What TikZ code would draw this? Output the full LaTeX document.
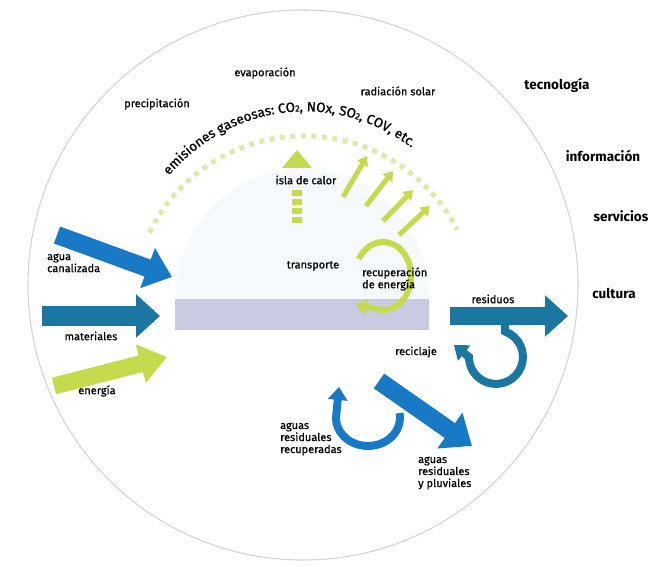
\documentclass[tikz,border=0pt]{standalone}
\usepackage{fontspec}
\setmainfont{Fira Sans}
\newfontfamily\lblfont{Fira Sans}[FakeBold=0.7]
\usetikzlibrary{arrows.meta,decorations.text}
\definecolor{cblue}{RGB}{24,122,198}
\definecolor{cteal}{RGB}{28,118,162}
\definecolor{cgreen}{RGB}{198,218,78}
\definecolor{cdot}{RGB}{222,233,172}
\definecolor{crect}{RGB}{201,203,227}
\definecolor{ccirc}{RGB}{212,212,212}
\definecolor{chaze}{RGB}{246,250,252}
\begin{document}
\begin{tikzpicture}[x=1pt,y=1pt,
  lbl/.style={font=\lblfont\fontsize{11}{12}\selectfont, inner sep=0pt, align=left},
  blbl/.style={font=\fontsize{13.5}{15}\selectfont\bfseries, inner sep=0pt},
  fatarrow/.style n args={4}{draw=#1, line width=#2, -{Triangle[width=#3,length=#4]}},
  looparrow/.style={line width=8, -{Triangle[width=19,length=13]}},
  solar/.style={draw=cgreen, line width=5, -{Triangle[width=12,length=9]}}]
\useasboundingbox (0,0) rectangle (654,567);
% outer circle
\draw[ccirc, line width=1.1] (303,282) circle[radius=275];
% faint dome
\fill[chaze] (175,268) arc[start angle=180, end angle=0, x radius=127, y radius=130] -- cycle;
% city bar
\fill[crect] (175,237) rectangle (429,268);
% dotted emission arc
\draw[cdot, line width=5, dash pattern=on 5 off 5.5]
  (149.4,334.4) arc[start angle=154, end angle=27, radius=172];
% text along arc
\path[decorate, decoration={text along path, text align=left,
  text={|\lblfont\fontsize{13.5}{15}\selectfont|emisiones gaseosas: CO|\lblfont\fontsize{9}{11}\selectfont|2|\lblfont\fontsize{13.5}{15}\selectfont|, NOx, SO|\lblfont\fontsize{9}{11}\selectfont|2|\lblfont\fontsize{13.5}{15}\selectfont|, COV, etc.}}]
  (169,391.4) arc[start angle=137, end angle=10, x radius=186, y radius=202];

% coordinates of the big arrows
\coordinate (aguaT) at (57,332);  \coordinate (aguaH) at (172,290);
\coordinate (matT) at (42,251);   \coordinate (matH) at (160,251);
\coordinate (eneT) at (54,181);   \coordinate (eneH) at (167,210);
\coordinate (resT) at (450,251);  \coordinate (resH) at (568,251);
\coordinate (arT) at (379,186);   \coordinate (arH) at (472,121);

\draw[fatarrow={cblue}{18}{41}{26}] (aguaT) -- (aguaH);
\draw[fatarrow={cteal}{20}{42}{24}] (matT) -- (matH);
\draw[fatarrow={cgreen}{17}{38}{27}] (eneT) -- (eneH);
\draw[fatarrow={cteal}{18}{40}{23}] (resT) -- (resH);
\draw[fatarrow={cblue}{18}{42}{27}] (arT) -- (arH);

% recycling loop from residuos
\draw[cteal, looparrow] (505.2,244) -- (505.2,235.4)
  arc[start angle=70, end angle=-180, radius=27] -- ++(-15,12);
% recovered water loop
\draw[cblue, looparrow] (399.5,153.9)
  arc[start angle=10, end angle=-180, x radius=32, y radius=28] -- ++(3,31);

% isla de calor
\fill[cgreen] (282,399) -- (312,399) -- (297,417) -- cycle;
\draw[cgreen, line width=10, dash pattern=on 6 off 3] (297,377) -- (297,343);

% solar radiation arrows
\coordinate (s1a) at (343,370); \coordinate (s1b) at (367,411);
\coordinate (s2a) at (366,361); \coordinate (s2b) at (393,396);
\coordinate (s3a) at (383,346); \coordinate (s3b) at (413,377);
\coordinate (s4a) at (399,332); \coordinate (s4b) at (430,361);
\draw[solar] (s1a) -- (s1b);
\draw[solar] (s2a) -- (s2b);
\draw[solar] (s3a) -- (s3b);
\draw[solar] (s4a) -- (s4b);

% energy recovery ring
\draw[cgreen, line width=6, -{Triangle[width=16,length=11]}] (358.8,308)
  arc[start angle=150, end angle=-105, x radius=28, y radius=34] -- ++(-20,4);

% labels
\node[lbl] (evap) at (265,494) {evaporación};
\node[lbl] (precip) at (157,463) {precipitación};
\node[lbl] (radsol) at (398,476) {radiación solar};
\node[blbl] (tecno) at (557,482) {tecnología};
\node[blbl] (info) at (603,411) {información};
\node[blbl] (serv) at (621,351) {servicios};
\node[blbl] (cult) at (614,274) {cultura};
\node[lbl, anchor=west] (agua) at (47,304) {agua\\canalizada};
\node[lbl] (mat) at (91,231) {materiales};
\node[lbl] (ene) at (97,176) {energía};
\node[lbl] (isla) at (306,387) {isla de calor};
\node[lbl] (transp) at (313,301) {transporte};
\node[lbl, anchor=west] (recup) at (362,288) {recuperación\\de energía};
\node[lbl] (resid) at (493,268) {residuos};
\node[lbl] (recic) at (416,215) {reciclaje};
\node[lbl, anchor=west] (aguasrec) at (280,128) {aguas\\residuales\\recuperadas};
\node[lbl, anchor=west] (aguasres) at (418,94) {aguas\\residuales\\y pluviales};
\end{tikzpicture}
\end{document}
